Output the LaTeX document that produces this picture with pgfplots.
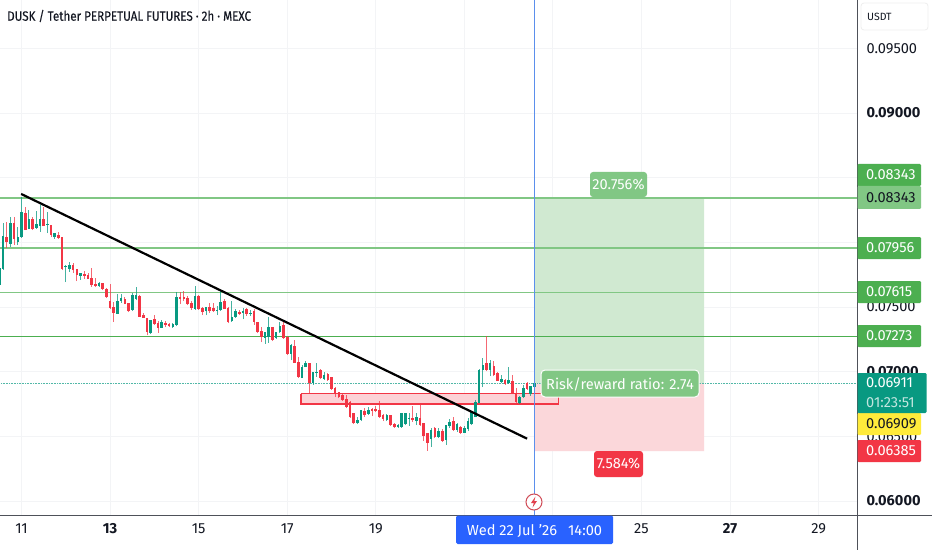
\documentclass[border=0pt]{standalone}
\usepackage{fontspec}
\setmainfont{Fira Sans}
\newfontfamily\titlefont[FakeStretch=0.86,FakeBold=0.25]{Fira Sans}
\usepackage{pgfplots}
\usepackage{pgfplotstable}
\pgfplotsset{compat=1.18}
\definecolor{cg}{HTML}{089981}
\definecolor{cr}{HTML}{F23645}
\definecolor{tg}{HTML}{4CAF50}
\definecolor{tl}{HTML}{81C784}
\definecolor{ink}{HTML}{131722}
\definecolor{gridc}{HTML}{F3F4F6}
\definecolor{blueln}{HTML}{5B8FEC}
\definecolor{bluetag}{HTML}{2962FF}
\definecolor{areag}{HTML}{D0E9D1}
\definecolor{arear}{HTML}{FBD7DA}
\definecolor{zonef}{HTML}{FCD2D6}
\definecolor{yel}{HTML}{FFEB3B}
\pgfplotstableread{
x o h l c
-6 0.07670 0.07848 0.07631 0.07801
-5 0.07794 0.08149 0.07786 0.08049
-3 0.07987 0.08196 0.07964 0.08149
-1 0.08003 0.08118 0.07979 0.08041
0 0.08041 0.08350 0.08034 0.08235
2 0.08103 0.08250 0.08103 0.08180
4 0.08111 0.08242 0.08103 0.08142
5 0.08126 0.08289 0.08080 0.08180
7 0.08134 0.08235 0.08072 0.08142
9 0.08041 0.08072 0.08026 0.08072
12 0.07809 0.07825 0.07693 0.07817
13 0.07794 0.07848 0.07771 0.07825
16 0.07740 0.07763 0.07709 0.07763
21 0.07662 0.07693 0.07655 0.07686
26 0.07446 0.07601 0.07446 0.07546
27 0.07546 0.07601 0.07531 0.07570
30 0.07477 0.07608 0.07469 0.07593
31 0.07562 0.07655 0.07554 0.07593
35 0.07299 0.07400 0.07291 0.07400
38 0.07338 0.07400 0.07338 0.07384
41 0.07345 0.07376 0.07338 0.07369
42 0.07361 0.07616 0.07353 0.07577
47 0.07485 0.07662 0.07477 0.07585
50 0.07469 0.07500 0.07438 0.07500
53 0.07469 0.07508 0.07438 0.07477
54 0.07477 0.07624 0.07469 0.07539
57 0.07392 0.07546 0.07384 0.07423
58 0.07423 0.07485 0.07415 0.07469
60 0.07454 0.07492 0.07407 0.07469
62 0.07446 0.07477 0.07431 0.07454
66 0.07260 0.07307 0.07214 0.07307
67 0.07268 0.07423 0.07222 0.07345
69 0.07260 0.07307 0.07253 0.07307
70 0.07307 0.07384 0.07299 0.07353
73 0.07137 0.07214 0.07090 0.07206
76 0.06951 0.07051 0.06951 0.07036
77 0.07036 0.07082 0.07036 0.07067
79 0.06912 0.06997 0.06897 0.06997
80 0.06990 0.07067 0.06959 0.06997
82 0.06943 0.06997 0.06936 0.06974
91 0.06603 0.06649 0.06595 0.06626
92 0.06626 0.06704 0.06618 0.06704
94 0.06673 0.06727 0.06665 0.06704
99 0.06626 0.06673 0.06618 0.06665
102 0.06572 0.06595 0.06565 0.06587
103 0.06572 0.06680 0.06565 0.06680
104 0.06595 0.06680 0.06587 0.06680
105 0.06634 0.06680 0.06580 0.06642
107 0.06618 0.06680 0.06587 0.06649
111 0.06480 0.06565 0.06418 0.06549
113 0.06495 0.06565 0.06487 0.06541
115 0.06472 0.06587 0.06433 0.06587
116 0.06580 0.06634 0.06565 0.06611
118 0.06549 0.06603 0.06534 0.06595
120 0.06526 0.06580 0.06526 0.06565
121 0.06557 0.06642 0.06541 0.06618
122 0.06595 0.06696 0.06587 0.06688
123 0.06649 0.06781 0.06649 0.06765
124 0.06758 0.07021 0.06758 0.07013
125 0.07013 0.07106 0.06881 0.07051
127 0.07013 0.07090 0.06966 0.07067
130 0.06920 0.06974 0.06912 0.06943
132 0.06912 0.07036 0.06905 0.06936
135 0.06758 0.06812 0.06750 0.06804
136 0.06804 0.06897 0.06796 0.06874
138 0.06827 0.06889 0.06812 0.06889
139 0.06881 0.06959 0.06881 0.06911
}\up
\pgfplotstableread{
x o h l c
-4 0.08041 0.08157 0.07956 0.08003
-2 0.08149 0.08196 0.07979 0.08026
1 0.08227 0.08273 0.08095 0.08095
3 0.08180 0.08196 0.08095 0.08103
6 0.08180 0.08273 0.08126 0.08126
8 0.08134 0.08134 0.08041 0.08057
10 0.08057 0.08080 0.08026 0.08034
11 0.08041 0.08041 0.07786 0.07794
14 0.07825 0.07840 0.07763 0.07786
15 0.07794 0.07794 0.07701 0.07747
17 0.07755 0.07778 0.07717 0.07740
18 0.07747 0.07763 0.07717 0.07717
19 0.07724 0.07801 0.07655 0.07670
20 0.07678 0.07724 0.07655 0.07662
22 0.07686 0.07686 0.07631 0.07639
23 0.07639 0.07647 0.07570 0.07577
24 0.07546 0.07678 0.07485 0.07492
25 0.07500 0.07539 0.07384 0.07454
28 0.07562 0.07577 0.07523 0.07523
29 0.07531 0.07531 0.07461 0.07469
32 0.07585 0.07593 0.07423 0.07423
33 0.07438 0.07454 0.07415 0.07415
34 0.07415 0.07415 0.07283 0.07307
36 0.07407 0.07438 0.07361 0.07369
37 0.07376 0.07392 0.07299 0.07338
39 0.07376 0.07392 0.07345 0.07361
40 0.07369 0.07376 0.07345 0.07353
43 0.07577 0.07616 0.07523 0.07562
44 0.07577 0.07624 0.07546 0.07562
45 0.07570 0.07585 0.07515 0.07523
46 0.07531 0.07546 0.07477 0.07492
48 0.07585 0.07593 0.07477 0.07485
49 0.07492 0.07500 0.07438 0.07461
51 0.07500 0.07531 0.07454 0.07469
52 0.07492 0.07531 0.07461 0.07469
55 0.07546 0.07562 0.07485 0.07485
56 0.07492 0.07500 0.07376 0.07384
59 0.07461 0.07477 0.07438 0.07446
61 0.07485 0.07492 0.07431 0.07446
63 0.07469 0.07485 0.07361 0.07384
64 0.07384 0.07384 0.07299 0.07307
65 0.07314 0.07345 0.07229 0.07268
68 0.07345 0.07345 0.07237 0.07245
71 0.07361 0.07384 0.07253 0.07260
72 0.07268 0.07276 0.07129 0.07137
74 0.07198 0.07245 0.07067 0.07067
75 0.07075 0.07113 0.06951 0.06959
78 0.07067 0.07067 0.06835 0.06912
81 0.07013 0.07021 0.06943 0.06951
83 0.06982 0.06990 0.06928 0.06936
84 0.06959 0.06959 0.06858 0.06866
85 0.06874 0.06881 0.06804 0.06827
86 0.06843 0.06843 0.06796 0.06804
87 0.06819 0.06835 0.06773 0.06781
88 0.06789 0.06819 0.06719 0.06727
89 0.06765 0.06773 0.06642 0.06649
90 0.06680 0.06680 0.06595 0.06603
93 0.06696 0.06719 0.06649 0.06665
95 0.06711 0.06719 0.06657 0.06696
96 0.06711 0.06734 0.06688 0.06696
97 0.06704 0.06773 0.06642 0.06649
98 0.06665 0.06673 0.06618 0.06634
100 0.06665 0.06665 0.06580 0.06587
101 0.06595 0.06603 0.06565 0.06572
106 0.06642 0.06734 0.06611 0.06626
108 0.06642 0.06758 0.06580 0.06587
109 0.06603 0.06603 0.06464 0.06503
110 0.06526 0.06526 0.06387 0.06449
112 0.06565 0.06572 0.06487 0.06495
114 0.06541 0.06557 0.06456 0.06464
117 0.06618 0.06649 0.06541 0.06549
119 0.06572 0.06580 0.06518 0.06526
126 0.07067 0.07276 0.07005 0.07013
128 0.07044 0.07082 0.06966 0.06974
129 0.06990 0.06997 0.06928 0.06928
131 0.06936 0.06943 0.06897 0.06905
133 0.06928 0.06974 0.06827 0.06835
134 0.06835 0.06874 0.06758 0.06765
137 0.06912 0.06920 0.06858 0.06866
}\down
\newcommand{\fs}{\fontsize{14.6}{16}\selectfont}
\newcommand{\ptag}[5]{% y1 y2 fill textcol text
  \fill[#3,rounded corners=1.2pt] (857.5,#1) rectangle (921,#2);
  \node[anchor=west,inner sep=0pt,text=#4] at (866,{(#1+#2)/2}) {\fs #5};}
\begin{document}
\begin{tikzpicture}
\path[use as bounding box] (0,0) rectangle (932pt,550pt);
\fill[white] (0,0) rectangle (932pt,550pt);
\begin{axis}[
  at={(0pt,35pt)},anchor=south west,
  scale only axis,width=857pt,height=515pt,
  xmin=-5.83,xmax=226.4,ymin=0.058917,ymax=0.098737,
  axis line style={draw=none},
  major tick length=0pt,
  scaled y ticks=false,scaled x ticks=false,
  xmajorgrids,ymajorgrids,grid style={gridc,line width=0.9pt},
  xtick={0,24,48,72,96,120,144,168,192,216},
  xticklabels={11,\textbf{13},15,17,19,{},{},25,\textbf{27},29},
  ytick={0.06,0.065,0.07,0.075,0.08,0.085,0.09,0.095},
  yticklabels={\textbf{0.06000},0.06500,\textbf{0.07000},0.07500,{},{},\textbf{0.09000},0.09500},
  yticklabel pos=right,
  ticklabel style={text=ink,font=\fs},
  yticklabel style={anchor=west,xshift=6pt},
  xticklabel style={anchor=center,yshift=-14pt},
  clip=true,
]
% risk / reward areas
\addplot[fill=areag,draw=none] coordinates {(139.2,0.08343)(185,0.08343)(185,0.06911)(139.2,0.06911)(139.2,0.08343)};
\addplot[fill=arear,draw=none] coordinates {(139.2,0.06911)(185,0.06911)(185,0.06385)(139.2,0.06385)(139.2,0.06911)};
% support zone
\addplot[fill=zonef,draw=cr,line width=1.3pt] coordinates {(75.7,0.06830)(145.6,0.06830)(145.6,0.06750)(75.7,0.06750)(75.7,0.06830)};
% horizontal levels
\addplot[tl,line width=1.5pt] coordinates {(-6,0.08343)(227,0.08343)};
\addplot[tl,line width=1.3pt] coordinates {(-6,0.07956)(227,0.07956)};
\addplot[tl,line width=1.2pt] coordinates {(-6,0.07615)(227,0.07615)};
\addplot[tg,line width=0.9pt] coordinates {(-6,0.07273)(227,0.07273)};
% last price
\addplot[cg!70,line width=0.6pt,densely dotted] coordinates {(-6,0.06911)(227,0.06911)};
% wicks
\addplot[draw=none,mark=none,error bars/.cd,y dir=plus,y explicit,error mark=none,
  error bar style={draw=cg,line width=0.8pt,opacity=0.75}]
  table[x=x,y=l,y error expr=\thisrow{h}-\thisrow{l}] {\up};
\addplot[draw=none,mark=none,error bars/.cd,y dir=plus,y explicit,error mark=none,
  error bar style={draw=cr,line width=0.8pt,opacity=0.75}]
  table[x=x,y=l,y error expr=\thisrow{h}-\thisrow{l}] {\down};
% bodies
\addplot[draw=none,mark=none,error bars/.cd,y dir=plus,y explicit,error mark=none,
  error bar style={draw=cg,line width=2.6pt}]
  table[x=x,y=o,y error expr=\thisrow{c}-\thisrow{o}] {\up};
\addplot[draw=none,mark=none,error bars/.cd,y dir=plus,y explicit,error mark=none,
  error bar style={draw=cr,line width=2.6pt}]
  table[x=x,y=c,y error expr=\thisrow{o}-\thisrow{c}] {\down};
% trend line
\addplot[black,line width=2.2pt] coordinates {(-0.1,0.08374)(137,0.06482)};
% cursor line
\addplot[blueln,line width=1pt] coordinates {(139,0.0589)(139,0.0988)};
\end{axis}
\begin{scope}[x=1pt,y=-1pt,yshift=550pt]
\draw[ink!75,line width=0.9pt] (0,515) -- (932,515);
\draw[ink!75,line width=0.9pt] (857,0) -- (857,550);
\node[anchor=west,inner sep=0pt,text=ink] at (7,16) {\titlefont\fontsize{13.5}{15}\selectfont DUSK / Tether PERPETUAL FUTURES · 2h · MEXC};
% USDT
\draw[gridc!60!gray!30,fill=white,rounded corners=3pt,line width=0.8pt] (861,3) rectangle (928,30);
\node[anchor=west,inner sep=0pt,text=ink] at (867,17) {\fontsize{10.5}{12}\selectfont USDT};
% tags
\ptag{164}{186}{tg}{white}{0.08343}
\ptag{186}{209}{tl}{ink}{0.08343}
\ptag{237}{259}{tg}{white}{0.07956}
\ptag{281}{303}{tg}{white}{0.07615}
\ptag{325}{347}{tg}{white}{0.07273}
\ptag{413}{435}{yel}{ink}{0.06909}
\ptag{440}{462}{cr}{white}{0.06385}
\fill[cg,rounded corners=1.2pt] (857.5,373) rectangle (926.5,413);
\node[anchor=west,inner sep=0pt,text=white] at (866,383) {\fs 0.06911};
\node[anchor=west,inner sep=0pt,text=white,opacity=0.75] at (866,403) {\fs 01:23:51};
% position labels
\fill[tl,rounded corners=3pt] (590,172) rectangle (647,197);
\node[text=white,inner sep=0pt] at (618.5,184.5) {\fs 20.756\%};
\fill[cr,rounded corners=3pt] (594,451) rectangle (643,477);
\node[text=white,inner sep=0pt] at (618.5,464) {\fs 7.584\%};
\draw[white,fill=tl,line width=1pt,rounded corners=4pt] (541,370) rectangle (699,397);
\node[text=white,inner sep=0pt] at (620,384) {\fs Risk/reward ratio: 2.74};
% date tag
\fill[bluetag,rounded corners=1.5pt] (456,515.5) rectangle (613,544);
\node[text=white,inner sep=0pt] at (534.5,531) {\fs Wed 22 Jul '26\hspace{11pt}14:00};
% event icon
\draw[fill=white,draw=cr!70!gray,line width=1pt] (534,502) circle (8);
\fill[cr!85!gray] (535.5,496.5) -- (531,503) -- (533.8,503) -- (532.6,507.5) -- (537,501) -- (534.3,501) -- cycle;
\end{scope}
\end{tikzpicture}
\end{document}
